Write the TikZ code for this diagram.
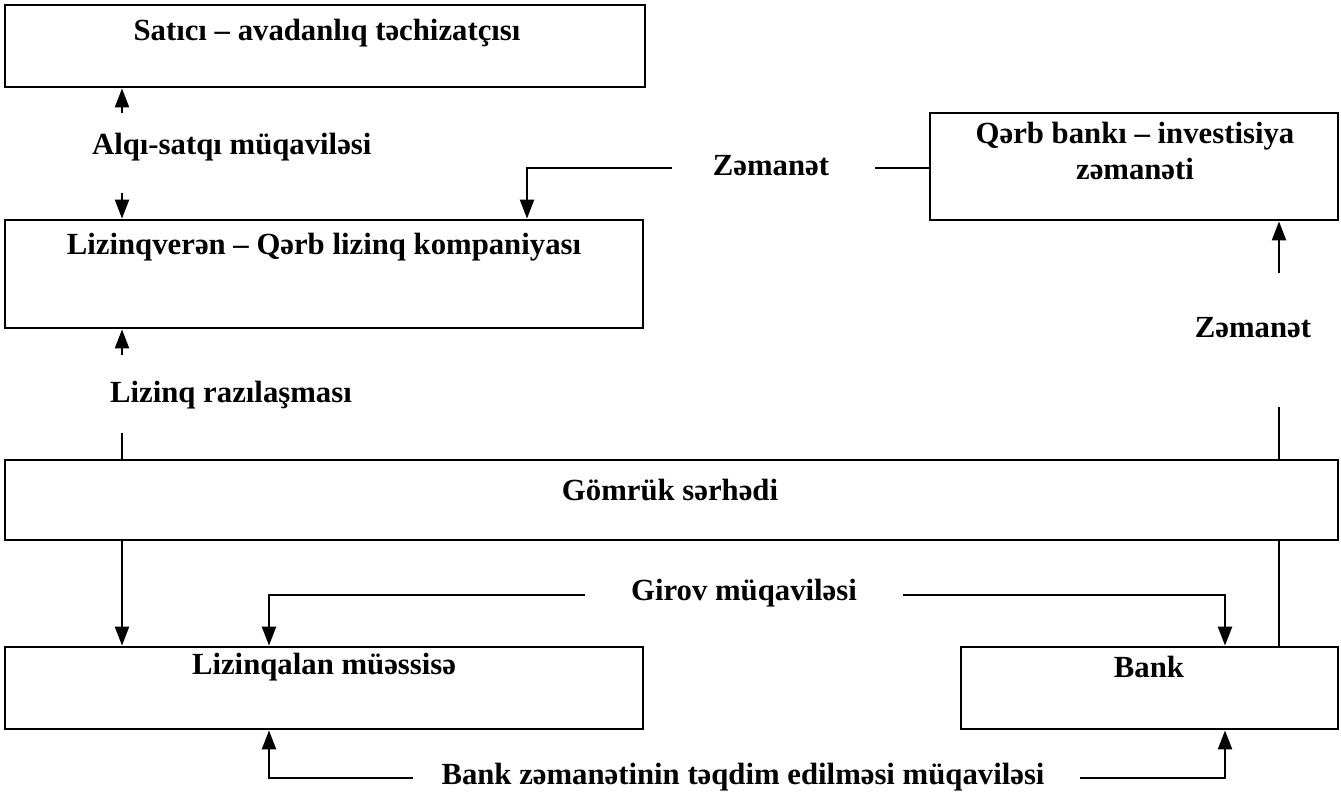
\documentclass[tikz,border=0pt]{standalone}
\usepackage{fontspec}
\setmainfont{Liberation Serif}
\usetikzlibrary{arrows.meta}
\begin{document}
\begin{tikzpicture}[x=0.02cm,y=-0.02cm,
  box/.style={draw,line width=1.6pt,rectangle,inner sep=0pt},
  txt/.style={font=\bfseries\fontsize{17.5}{21}\selectfont,inner sep=1pt},
  conn/.style={line width=1.3pt},
  arr/.style={conn,-{Triangle[length=0.38cm,width=0.28cm]}}]
\useasboundingbox (0,0) rectangle (1341,796);
% boxes
\node[box,minimum width=640*0.02cm,minimum height=82*0.02cm] (satici) at (325,46) {};
\node[box,minimum width=638*0.02cm,minimum height=108*0.02cm] (lizv) at (324,274) {};
\node[box,minimum width=408*0.02cm,minimum height=107*0.02cm] (qerb) at (1134,166.5) {};
\node[box,minimum width=1333*0.02cm,minimum height=80*0.02cm] (gomruk) at (671.5,500) {};
\node[box,minimum width=638*0.02cm,minimum height=82*0.02cm] (lizq) at (324,688) {};
\node[box,minimum width=377*0.02cm,minimum height=82*0.02cm] (bank) at (1149.5,688) {};
% box texts
\node[txt] (tsatici) at (327,33) {Satıcı – avadanlıq təchizatçısı};
\node[txt] (tlizv) at (324,247) {Lizinqverən – Qərb lizinq kompaniyası};
\node[txt,align=center] (tqerb) at (1135,151) {Qərb bankı – investisiya\\zəmanəti};
\node[txt] (tgomruk) at (670,490) {Gömrük sərhədi};
\node[txt] (tlizq) at (324,667) {Lizinqalan müəssisə};
\node[txt] (tbank) at (1149,667) {Bank};
% labels
\node[txt,anchor=west] (alqi) at (90,147) {Alqı-satqı müqaviləsi};
\node[txt] (zam1) at (771,166) {Zəmanət};
\node[txt] (zam2) at (1253,328) {Zəmanət};
\node[txt,anchor=west] (lizraz) at (108,395) {Lizinq razılaşması};
\node[txt] (girov) at (744,593) {Girov müqaviləsi};
\node[txt] (bzam) at (743,777) {Bank zəmanətinin təqdim edilməsi müqaviləsi};
% coordinates
\coordinate (a1) at (122,113);
\coordinate (a2) at (122,193);
\coordinate (z1a) at (875,168);
\coordinate (z1b) at (672,168);
\coordinate (z1c) at (527,168);
\coordinate (q1) at (1279,273);
\coordinate (q2) at (1279,407);
\coordinate (l1) at (122,355);
\coordinate (l2) at (122,433);
\coordinate (g1) at (585,595);
\coordinate (g2) at (269,595);
\coordinate (g3) at (903,595);
\coordinate (g4) at (1225,595);
\coordinate (b1) at (413,778);
\coordinate (b2) at (269,778);
\coordinate (b3) at (1080,778);
\coordinate (b4) at (1225,778);
% connectors
\draw[arr] (a1) -- (satici.south -| a1);
\draw[arr] (a2) -- (lizv.north -| a2);
\draw[conn] (qerb.west |- z1a) -- (z1a);
\draw[arr] (z1b) -- (z1c) -- (lizv.north -| z1c);
\draw[arr] (q1) -- (qerb.south -| q1);
\draw[conn] (q2) -- (gomruk.north -| q2);
\draw[arr] (l1) -- (lizv.south -| l1);
\draw[conn] (l2) -- (gomruk.north -| l2);
\draw[arr] (gomruk.south -| l2) -- (lizq.north -| l2);
\draw[conn] (gomruk.south -| q2) -- (bank.north -| q2);
\draw[arr] (g1) -- (g2) -- (lizq.north -| g2);
\draw[arr] (g3) -- (g4) -- (bank.north -| g4);
\draw[arr] (b1) -- (b2) -- (lizq.south -| b2);
\draw[arr] (b3) -- (b4) -- (bank.south -| b4);
\end{tikzpicture}
\end{document}
